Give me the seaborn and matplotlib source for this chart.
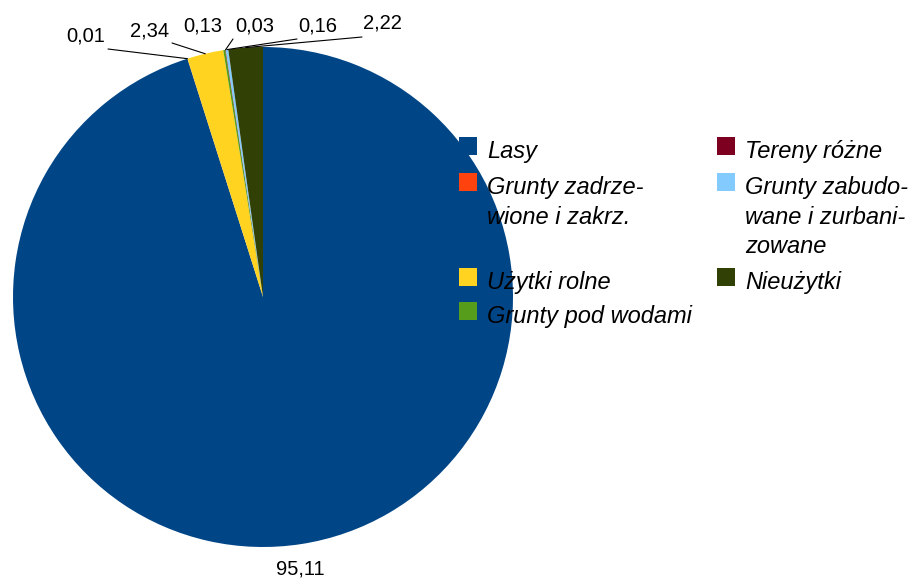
import numpy as np
import matplotlib
matplotlib.use("Agg")
import matplotlib.pyplot as plt
from matplotlib.patches import Rectangle
import seaborn as sns

# data, clockwise from 12 o'clock
categories = ["Lasy", "Grunty zadrzewione i zakrz.", "Użytki rolne", "Grunty pod wodami",
              "Tereny różne", "Grunty zabudowane i zurbanizowane", "Nieużytki"]
values = [95.11, 0.01, 2.34, 0.13, 0.03, 0.16, 2.22]
value_labels = ["95,11", "0,01", "2,34", "0,13", "0,03", "0,16", "2,22"]
colors = ["#004586", "#ff420e", "#ffd320", "#579d1c", "#7e0021", "#83caff", "#314004"]

# legend text as shown (hyphenated like the original)
legend_text = {
    "Lasy": "Lasy",
    "Grunty zadrzewione i zakrz.": "Grunty zadrze-\nwione i zakrz.",
    "Użytki rolne": "Użytki rolne",
    "Grunty pod wodami": "Grunty pod wodami",
    "Tereny różne": "Tereny różne",
    "Grunty zabudowane i zurbanizowane": "Grunty zabudo-\nwane i zurbani-\nzowane",
    "Nieużytki": "Nieużytki",
}

sns.set_theme(style="white")
plt.rcParams['font.family'] = ['Liberation Sans', 'DejaVu Sans']

W, H = 919, 579
CX, CY, R = 263, 297, 250

fig = plt.figure(figsize=(W / 100, H / 100), dpi=100)
ax = fig.add_axes([0, 0, 1, 1])
wedges, _ = ax.pie(values, colors=colors, startangle=90, counterclock=False,
                   radius=1, wedgeprops=dict(linewidth=0))
ax.set_xlim(-CX / R, (W - CX) / R)
ax.set_ylim(-(H - CY) / R, CY / R)
ax.set_aspect('auto')
ax.axis('off')


def px2d(px, py):
    return (px - CX) / R, (CY - py) / R


# label placement (pixels) and leader line start near each label
label_pos = [(300, 569), (86, 36), (150, 31), (203, 26), (255, 26), (318, 26), (382, 23)]
line_start = [None, (108, 49), (172, 43), None, (233, 39), (297, 39), (362, 37)]

cum = np.cumsum([0] + values[:-1])
for i, v in enumerate(values):
    mid = 90 - (cum[i] + v / 2) / sum(values) * 360
    ex, ey = np.cos(np.radians(mid)), np.sin(np.radians(mid))
    if line_start[i] is not None:
        sx, sy = px2d(*line_start[i])
        ax.plot([sx, ex], [sy, ey], color="black", lw=0.8, zorder=1)
    tx, ty = px2d(*label_pos[i])
    ax.text(tx, ty, value_labels[i], ha="center", va="center", fontsize=14.5, color="black")

# legend, two columns filled column-wise
legend_cells = [
    (459, 137, 0), (459, 173, 1), (459, 268, 2), (459, 302, 3),
    (717, 137, 4), (717, 173, 5), (717, 268, 6),
]
LINE_H = 29.5
for x0, y0, idx in legend_cells:
    fig.add_artist(Rectangle((x0 / W, 1 - (y0 + 18) / H), 18 / W, 18 / H,
                             transform=fig.transFigure, color=colors[idx], lw=0))
    for k, line in enumerate(legend_text[categories[idx]].split("\n")):
        fig.text((x0 + 28) / W, 1 - (y0 + 21 + k * LINE_H) / H, line,
                 ha="left", va="baseline", fontsize=17, style="italic", color="black")

fig.savefig("out.png", dpi=100)
